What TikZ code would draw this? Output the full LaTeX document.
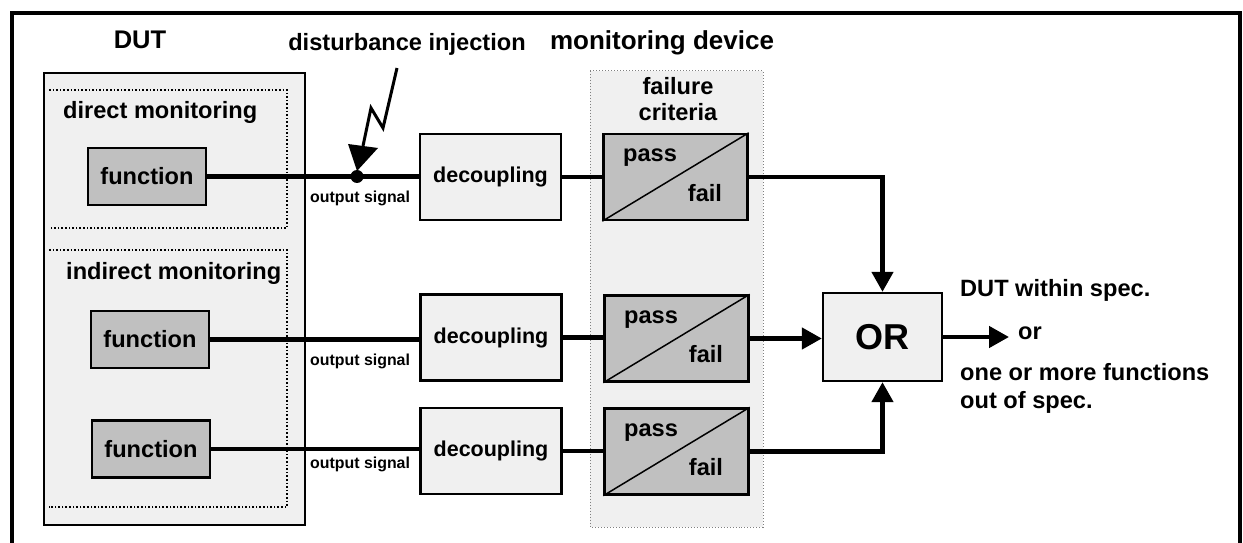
\documentclass[tikz,border=0pt]{standalone}
\usepackage{fontspec}
\setmainfont{Liberation Sans}
\usetikzlibrary{arrows.meta}
\definecolor{lightbox}{RGB}{240,240,240}
\definecolor{darkbox}{RGB}{192,192,192}
\newcommand{\fs}[2]{\fontsize{#1bp}{#2bp}\selectfont\bfseries}
\begin{document}
\begin{tikzpicture}[x=1bp,y=-1bp,
  box/.style={draw=black,line width=2.3bp,inner sep=0pt,minimum width=#1},
  fnbox/.style={box=118bp,fill=darkbox,minimum height=57bp,font=\fs{23.6}{28}},
  decbox/.style={box=141bp,fill=lightbox,minimum height=86bp,font=\fs{21.5}{26}},
  pfbox/.style={box=144bp,fill=darkbox,minimum height=86bp},
  lbl/.style={inner sep=0pt,font=\fs{23.6}{28}},
  small/.style={inner sep=0pt,font=\fs{15.9}{19},anchor=west},
  wire/.style={line width=4.5bp},
  arr/.style={wire,-{Triangle[length=20bp,width=21bp]}},
  dotbox/.style={dotted,line width=1.6bp}]
\useasboundingbox (0,0) rectangle (1243,543);
% outer frame
\draw[line width=4bp] (12,545) -- (12,13) -- (1240,13) -- (1240,545);
% DUT region
\draw[fill=lightbox,line width=1.6bp] (44,73) rectangle (305,525);
\draw[dotbox] (49,90) -- (287,90) -- (287,228) -- (49,228);
\draw[dotbox] (49,250) -- (287,250) -- (287,507) -- (49,507);
% monitoring region
\draw[fill=lightbox,draw=gray,dotted,line width=1bp] (590,71) rectangle (763,527);
% titles
\node[lbl,font=\fs{25.5}{30}] (tdut) at (140,40) {DUT};
\node[lbl] (tdist) at (407,44) {disturbance injection};
\node[lbl,font=\fs{26}{30}] (tmon) at (662,43) {monitoring device};
\node[lbl,anchor=west] (tdir) at (63,112) {direct monitoring};
\node[lbl,anchor=west] (tind) at (66,273) {indirect monitoring};
\node[lbl,align=center,font=\fs{23.6}{26}] (tfc) at (678,99) {failure\\criteria};
% function boxes
\node[fnbox] (fn1) at (147,176.5) {function};
\node[fnbox] (fn2) at (150,339.5) {function};
\node[fnbox] (fn3) at (151,449) {function};
% decoupling
\node[decbox] (dec1) at (490.5,177) {decoupling};
\node[decbox] (dec2) at (491,337.5) {decoupling};
\node[decbox] (dec3) at (491,451) {decoupling};
% pass / fail
\foreach \n/\x/\y in {pf1/675.5/177, pf2/676.5/338.5, pf3/676.5/451.5}{
  \node[pfbox] (\n) at (\x,\y) {};
  \draw[line width=1.5bp] (\n.south west) -- (\n.north east);
  \node[lbl] at (\x-25.5,\y-19) {pass};
  \node[lbl] at (\x+29.5,\y+16) {fail};
}
% OR
\node[box=119bp,fill=lightbox,minimum height=88bp,font=\fs{36}{42}] (orb) at (882.5,337) {OR};
% wires
\draw[wire] (fn1.east) -- (fn1.east -| dec1.west);
\draw[wire] (fn2.east) -- (fn2.east -| dec2.west);
\draw[wire] (fn3.east) -- (fn3.east -| dec3.west);
\draw[wire] (dec1.east) -- (dec1.east -| pf1.west);
\draw[wire] (dec2.east) -- (dec2.east -| pf2.west);
\draw[wire] (dec3.east) -- (dec3.east -| pf3.west);
\draw[arr] (pf1.east) -| (orb.north);
\draw[arr] (pf2.east) -- (pf2.east -| orb.west);
\draw[arr] (pf3.east) -| (orb.south);
\coordinate (out) at (1009,337);
\draw[arr] (orb.east) -- (out);
% disturbance injection (lightning)
\coordinate (inj) at (357,176.5);
\coordinate (z0) at (397,68);
\coordinate (z1) at (383,128);
\coordinate (z2) at (371,108);
\coordinate (zb) at (363,146);
\coordinate (tl) at (348,144);
\coordinate (tr) at (378,148);
\coordinate (tip) at (357,171);
\draw[line width=3bp,line join=miter] (z0) -- (z1) -- (z2) -- (zb);
\fill (tl) -- (tr) -- (tip) -- cycle;
\fill (inj) circle (6.5bp);
% output signal labels
\node[small] (os1) at (310,198) {output signal};
\node[small] (os2) at (310,361) {output signal};
\node[small] (os3) at (310,464) {output signal};
% result text
\node[lbl,anchor=west] (r1) at (960,290) {DUT within spec.};
\node[lbl] (r2) at (1030,333) {or};
\node[lbl,anchor=west,align=left,font=\fs{23.6}{28}] (r3) at (960,388) {one or more functions\\out of spec.};
\end{tikzpicture}
\end{document}
